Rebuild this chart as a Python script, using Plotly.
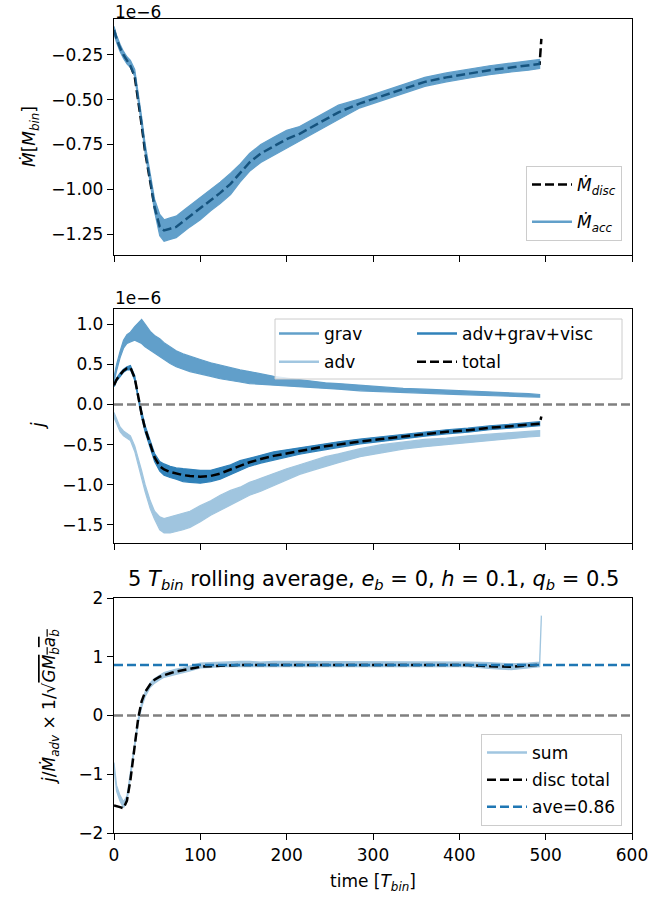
import plotly.graph_objects as go

# ---------------- data ----------------
T = [0, 3, 7, 11, 15, 19, 24, 28, 32, 36, 42, 47, 53, 58, 65, 72, 80, 88, 100, 112,
     123, 135, 146, 157, 170, 185, 200, 215, 230, 245, 260, 285, 310, 335, 360, 385,
     410, 435, 460, 480, 493]
T_END = [495]  # final sample where some curves jump

# panel 1 : mass flux (units of 1e-6 M_bin)
M_acc_lo = [-0.13, -0.18, -0.23, -0.27, -0.30, -0.32, -0.37, -0.505, -0.645, -0.795,
            -0.965, -1.125, -1.26, -1.29, -1.28, -1.27, -1.24, -1.21, -1.17, -1.12,
            -1.08, -1.03, -0.96, -0.90, -0.85, -0.81, -0.77, -0.73, -0.69, -0.65,
            -0.61, -0.545, -0.505, -0.465, -0.425, -0.40, -0.38, -0.36, -0.345, -0.335, -0.325]
M_acc_hi = [-0.09, -0.14, -0.19, -0.23, -0.26, -0.28, -0.33, -0.455, -0.595, -0.745,
            -0.915, -1.055, -1.14, -1.17, -1.16, -1.15, -1.12, -1.09, -1.05, -1.00,
            -0.96, -0.91, -0.86, -0.80, -0.75, -0.71, -0.67, -0.65, -0.61, -0.57,
            -0.53, -0.495, -0.455, -0.415, -0.375, -0.35, -0.33, -0.31, -0.295, -0.285, -0.275]
M_disc = [-0.11, -0.16, -0.21, -0.25, -0.28, -0.31, -0.37, -0.50, -0.64, -0.79, -0.96,
          -1.10, -1.21, -1.23, -1.22, -1.21, -1.18, -1.15, -1.11, -1.06, -1.02, -0.97,
          -0.91, -0.85, -0.80, -0.76, -0.72, -0.69, -0.65, -0.61, -0.57, -0.52, -0.48,
          -0.44, -0.40, -0.375, -0.355, -0.335, -0.32, -0.31, -0.30]
M_disc_end = [-0.16]

# panel 2 : angular momentum flux (units of 1e-6)
grav_lo = [0.28, 0.42, 0.58, 0.70, 0.76, 0.78, 0.80, 0.78, 0.76, 0.72, 0.68, 0.64, 0.60,
           0.56, 0.51, 0.47, 0.44, 0.41, 0.38, 0.35, 0.32, 0.30, 0.28, 0.26, 0.25, 0.24,
           0.23, 0.22, 0.21, 0.20, 0.19, 0.17, 0.16, 0.15, 0.14, 0.13, 0.12, 0.11, 0.10,
           0.095, 0.09]
grav_hi = [0.34, 0.50, 0.66, 0.80, 0.87, 0.90, 0.97, 1.02, 1.06, 1.00, 0.91, 0.86, 0.82,
           0.77, 0.72, 0.67, 0.63, 0.60, 0.56, 0.52, 0.49, 0.46, 0.43, 0.41, 0.38, 0.35,
           0.33, 0.31, 0.29, 0.27, 0.26, 0.24, 0.22, 0.20, 0.19, 0.18, 0.17, 0.16, 0.145,
           0.135, 0.125]
adv_lo = [-0.16, -0.24, -0.34, -0.39, -0.42, -0.45, -0.585, -0.74, -0.915, -1.085, -1.30,
          -1.43, -1.56, -1.60, -1.60, -1.58, -1.56, -1.53, -1.46, -1.38, -1.31, -1.25,
          -1.19, -1.13, -1.08, -1.00, -0.94, -0.87, -0.82, -0.77, -0.725, -0.65, -0.60,
          -0.555, -0.525, -0.50, -0.47, -0.45, -0.425, -0.405, -0.395]
adv_hi = [-0.10, -0.18, -0.28, -0.33, -0.36, -0.39, -0.515, -0.66, -0.825, -0.995, -1.20,
          -1.33, -1.40, -1.42, -1.40, -1.38, -1.36, -1.33, -1.26, -1.20, -1.13, -1.07,
          -1.03, -0.97, -0.92, -0.86, -0.80, -0.75, -0.70, -0.65, -0.615, -0.55, -0.50,
          -0.465, -0.435, -0.42, -0.39, -0.37, -0.355, -0.335, -0.325]
agv_lo = [0.22, 0.29, 0.35, 0.40, 0.43, 0.435, 0.30, 0.05, -0.16, -0.34, -0.55, -0.71,
          -0.83, -0.88, -0.91, -0.93, -0.96, -0.97, -0.98, -0.96, -0.93, -0.87, -0.82,
          -0.77, -0.73, -0.69, -0.655, -0.62, -0.59, -0.555, -0.535, -0.49, -0.46, -0.43,
          -0.395, -0.365, -0.345, -0.315, -0.295, -0.275, -0.265]
agv_hi = [0.26, 0.33, 0.39, 0.44, 0.47, 0.485, 0.36, 0.11, -0.08, -0.26, -0.45, -0.61,
          -0.71, -0.74, -0.77, -0.79, -0.80, -0.81, -0.82, -0.82, -0.79, -0.75, -0.70,
          -0.67, -0.63, -0.59, -0.565, -0.54, -0.51, -0.485, -0.465, -0.43, -0.40, -0.37,
          -0.345, -0.315, -0.295, -0.265, -0.245, -0.225, -0.215]
j_total = [0.24, 0.31, 0.37, 0.42, 0.45, 0.46, 0.33, 0.08, -0.12, -0.30, -0.50, -0.66,
           -0.77, -0.81, -0.84, -0.86, -0.88, -0.89, -0.90, -0.89, -0.86, -0.81, -0.76,
           -0.72, -0.68, -0.64, -0.61, -0.58, -0.55, -0.52, -0.50, -0.46, -0.43, -0.40,
           -0.37, -0.34, -0.32, -0.29, -0.27, -0.25, -0.24]
j_total_end = [-0.15]

# panel 3 : specific angular momentum of accreted material
sum_lo = [-0.90, -1.29, -1.46, -1.57, -1.47, -1.10, -0.54, -0.14, 0.14, 0.32, 0.48, 0.55,
          0.61, 0.65, 0.68, 0.71, 0.73, 0.76, 0.81, 0.82, 0.83, 0.83, 0.84, 0.84, 0.83,
          0.84, 0.84, 0.83, 0.84, 0.84, 0.83, 0.84, 0.84, 0.83, 0.83, 0.83, 0.83, 0.80,
          0.78, 0.81, 0.83]
sum_hi = [-0.80, -1.19, -1.36, -1.47, -1.37, -1.00, -0.46, -0.06, 0.22, 0.40, 0.56, 0.63,
          0.69, 0.73, 0.76, 0.79, 0.81, 0.84, 0.89, 0.90, 0.91, 0.91, 0.92, 0.92, 0.91,
          0.92, 0.92, 0.91, 0.92, 0.92, 0.91, 0.92, 0.92, 0.91, 0.91, 0.91, 0.91, 0.90,
          0.88, 0.89, 0.91]
sum_end_lo = [1.66]
sum_end_hi = [1.70]
disc_total = [-1.53, -1.54, -1.56, -1.58, -1.45, -1.10, -0.52, -0.05, 0.24, 0.40, 0.53,
              0.61, 0.66, 0.69, 0.72, 0.75, 0.77, 0.80, 0.83, 0.84, 0.85, 0.85, 0.86, 0.86,
              0.86, 0.87, 0.87, 0.87, 0.87, 0.87, 0.87, 0.87, 0.87, 0.87, 0.86, 0.86, 0.86,
              0.84, 0.83, 0.85, 0.86]
AVE = 0.86

X_RANGE = [0, 600]
X_TICKS = [0, 100, 200, 300, 400, 500, 600]
Y1_TICKS = [-1.25, -1.0, -0.75, -0.5, -0.25]
Y2_TICKS = [-1.5, -1.0, -0.5, 0.0, 0.5, 1.0]
Y3_TICKS = [-2, -1, 0, 1, 2]

# ---------------- styling ----------------
W, H = 650, 901
FONT = "DejaVu Sans"
FS = 17
BLUE = "#1f77b4"


def px(x):
    return x / W


def py(y):
    return 1 - y / H


def band(x, lo, hi, xa, ya, opacity):
    return go.Scatter(x=list(x) + list(x)[::-1], y=list(hi) + list(lo)[::-1],
                      xaxis=xa, yaxis=ya, mode="lines", fill="toself",
                      fillcolor=BLUE, line=dict(color=BLUE, width=1.2),
                      opacity=opacity, showlegend=False, hoverinfo="skip")


def legend_line(name, color, dash, legend, group):
    return go.Scatter(x=[None], y=[None], mode="lines", name=name,
                      line=dict(color=color, width=2.5, dash=dash),
                      legend=legend, legendgroup=group, showlegend=True)


DASH = "9px,4px"
fig = go.Figure()

# panel 1
fig.add_trace(go.Scatter(x=T + T_END, y=M_disc + M_disc_end, xaxis="x", yaxis="y",
                         mode="lines", line=dict(color="black", width=2.5, dash=DASH),
                         name="<i>Ṁ</i><sub><i>disc</i></sub>", legend="legend",
                         legendgroup="a1"))
fig.add_trace(band(T, M_acc_lo, M_acc_hi, "x", "y", 0.7))
fig.add_trace(legend_line("<i>Ṁ</i><sub><i>acc</i></sub>", "rgba(31,119,180,0.7)",
                          "solid", "legend", "a2"))

# panel 2
fig.add_trace(band(T, grav_lo, grav_hi, "x2", "y2", 0.7))
fig.add_trace(band(T, adv_lo, adv_hi, "x2", "y2", 0.42))
fig.add_trace(band(T, agv_lo, agv_hi, "x2", "y2", 0.92))
fig.add_trace(legend_line("grav", "rgba(31,119,180,0.7)", "solid", "legend2", "b1"))
fig.add_trace(legend_line("adv", "rgba(31,119,180,0.42)", "solid", "legend2", "b2"))
fig.add_trace(legend_line("adv+grav+visc", "rgba(31,119,180,0.92)", "solid", "legend3", "b3"))
fig.add_trace(go.Scatter(x=T + T_END, y=j_total + j_total_end, xaxis="x2", yaxis="y2",
                         mode="lines", line=dict(color="black", width=2.5, dash=DASH),
                         name="total", legend="legend3", legendgroup="b4"))

# panel 3
fig.add_trace(band(T + T_END, sum_lo + sum_end_lo, sum_hi + sum_end_hi, "x3", "y3", 0.42))
fig.add_trace(legend_line("sum", "rgba(31,119,180,0.42)", "solid", "legend4", "c1"))
fig.add_trace(go.Scatter(x=T, y=disc_total, xaxis="x3", yaxis="y3", mode="lines",
                         line=dict(color="black", width=2.5, dash=DASH),
                         name="disc total", legend="legend4", legendgroup="c2"))
fig.add_trace(go.Scatter(x=X_RANGE, y=[AVE, AVE], xaxis="x3", yaxis="y3", mode="lines",
                         line=dict(color=BLUE, width=2.5, dash=DASH),
                         name="ave=%.2f" % AVE, legend="legend4", legendgroup="c3"))

axis_common = dict(showline=True, mirror=True, linecolor="black", linewidth=1.3,
                   ticks="outside", ticklen=6, tickwidth=1.3, tickcolor="black",
                   showgrid=False, zeroline=False, automargin=False,
                   tickfont=dict(family=FONT, size=FS, color="black"))

xdom = [px(114), px(632)]
d1 = [py(255), py(19)]
d2 = [py(543), py(309)]
d3 = [py(833), py(598)]

legend_common = dict(font=dict(family=FONT, size=FS, color="black"), itemwidth=40,
                     traceorder="grouped")

fig.update_layout(
    width=W, height=H, autosize=False,
    margin=dict(l=0, r=0, t=0, b=0, pad=0, autoexpand=False),
    paper_bgcolor="white", plot_bgcolor="white",
    font=dict(family=FONT, size=FS, color="black"),
    xaxis=dict(domain=xdom, anchor="y", range=X_RANGE, tickvals=X_TICKS,
               showticklabels=False, **axis_common),
    xaxis2=dict(domain=xdom, anchor="y2", range=X_RANGE, tickvals=X_TICKS,
                showticklabels=False, **axis_common),
    xaxis3=dict(domain=xdom, anchor="y3", range=X_RANGE, tickvals=X_TICKS,
                **axis_common),
    yaxis=dict(domain=d1, anchor="x", range=[-1.367, -0.049], tickvals=Y1_TICKS,
               tickformat=".2f", **axis_common),
    yaxis2=dict(domain=d2, anchor="x2", range=[-1.725, 1.189], tickvals=Y2_TICKS,
                tickformat=".1f", **axis_common),
    yaxis3=dict(domain=d3, anchor="x3", range=[-2, 2], tickvals=Y3_TICKS,
                tickformat="d", **axis_common),
    legend=dict(x=px(622), y=py(166), xanchor="right", yanchor="top",
                bgcolor="rgba(255,255,255,0.8)", bordercolor="#cccccc", borderwidth=1,
                tracegroupgap=12, **legend_common),
    legend2=dict(x=px(274), y=py(316), xanchor="left", yanchor="top",
                 bgcolor="rgba(0,0,0,0)", borderwidth=0, tracegroupgap=3, **legend_common),
    legend3=dict(x=px(412), y=py(316), xanchor="left", yanchor="top",
                 bgcolor="rgba(0,0,0,0)", borderwidth=0, tracegroupgap=3, **legend_common),
    legend4=dict(x=px(622), y=py(734), xanchor="right", yanchor="top",
                 bgcolor="rgba(255,255,255,0.8)", bordercolor="#cccccc", borderwidth=1,
                 tracegroupgap=2, **legend_common),
    showlegend=True,
)

# zero lines and legend frame of panel 2
fig.add_shape(type="line", xref="x2 domain", yref="y2", x0=0, x1=1, y0=0, y1=0,
              line=dict(color="grey", width=2.5, dash=DASH))
fig.add_shape(type="line", xref="x3 domain", yref="y3", x0=0, x1=1, y0=0, y1=0,
              line=dict(color="grey", width=2.5, dash=DASH))
fig.add_shape(type="rect", xref="paper", yref="paper", x0=px(275), x1=px(622),
              y0=py(379), y1=py(319), fillcolor="rgba(255,255,255,0.8)",
              line=dict(color="#cccccc", width=1), layer="above")

ann = []
ann.append(dict(text="1e\u22126", x=px(113), y=py(0), xanchor="left", yanchor="top"))
ann.append(dict(text="1e\u22126", x=px(113), y=py(298), xanchor="left", yanchor="middle"))
ann.append(dict(text="<i>Ṁ</i>[<i>M</i><sub><i>bin</i></sub>]", x=px(31), y=py(137),
                textangle=-90, xanchor="center", yanchor="middle"))
ann.append(dict(text="<i>\u0237\u0307</i>", x=px(38), y=py(425), textangle=-90,
                xanchor="center", yanchor="middle"))
ann.append(dict(text="<i>\u0237\u0307</i>/<i>Ṁ</i><sub><i>adv</i></sub> \u00d7 1/\u221a"
                     "<span style='text-decoration:overline'><i>GM</i><sub><i>b</i></sub>"
                     "<i>a</i><sub><i>b</i></sub></span>",
                x=px(50), y=py(707), textangle=-90, xanchor="center", yanchor="middle"))
ann.append(dict(text="time [<i>T</i><sub><i>bin</i></sub>]", x=px(373), y=py(882),
                xanchor="center", yanchor="middle"))
ann.append(dict(text="5 <i>T</i><sub><i>bin</i></sub> rolling average, <i>e</i><sub><i>b</i></sub>"
                     " = 0, <i>h</i> = 0.1, <i>q</i><sub><i>b</i></sub> = 0.5",
                x=px(373), y=py(580), xanchor="center", yanchor="middle",
                font=dict(family=FONT, size=21, color="black")))
for a in ann:
    a.setdefault("font", dict(family=FONT, size=FS, color="black"))
    a.update(xref="paper", yref="paper", showarrow=False)
fig.update_layout(annotations=ann)

fig.write_html("out.html", config={"responsive": False})
